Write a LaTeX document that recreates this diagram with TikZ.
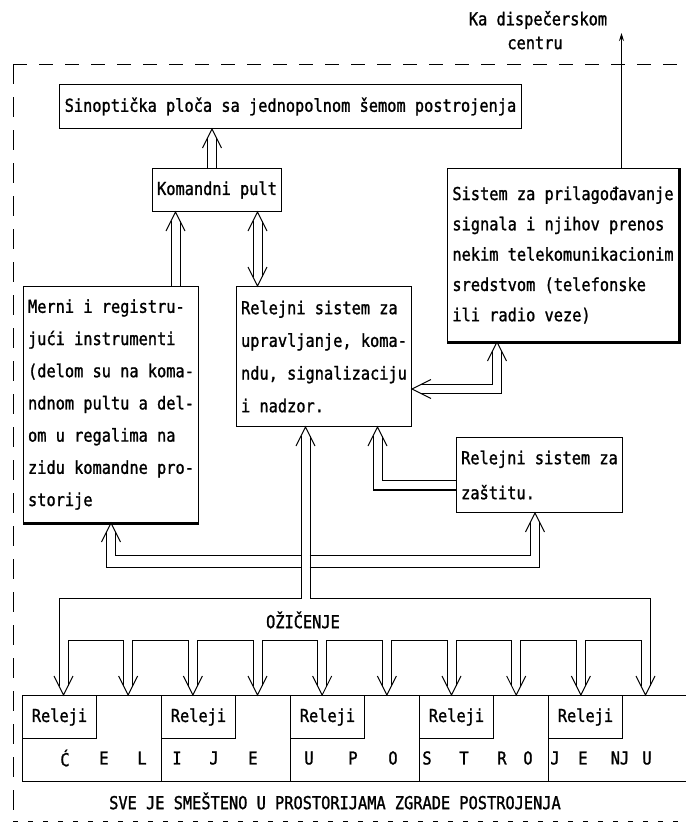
\documentclass[tikz,border=0pt]{standalone}
\usepackage{fontspec}
\newfontfamily\dfont[FakeStretch=0.86,FakeBold=1.3]{DejaVu Sans Mono}
\newcommand\dtext[1]{\dfont\fontsize{17.8pt}{#1pt}\selectfont}
\usetikzlibrary{calc,arrows.meta}
\tikzset{
  hup/.pic={\draw[line width=1pt] (-9.5,19) -- (0,0) -- (9.5,19);},
  hdown/.pic={\draw[line width=1pt] (-9.5,-19) -- (0,0) -- (9.5,-19);},
  hleft/.pic={\draw[line width=1pt] (19,-9.5) -- (0,0) -- (19,9.5);},
}
\begin{document}
\begin{tikzpicture}[x=1pt,y=-1pt,
  every node/.style={inner sep=0pt, font=\dtext{20}},
  box/.style={draw, line width=1pt, anchor=north west, inner sep=0pt, align=left},
  dline/.style={line width=1pt, double=white, double distance=8pt},
  ln/.style={line width=1pt},
  relbox/.style={draw, line width=1pt, anchor=north west, minimum width=74pt, minimum height=43pt},
]
\useasboundingbox (0,0) rectangle (686,823);

% dashed frame
\draw[line width=1pt, dash pattern=on 14pt off 12pt] (13,64) -- (686,64);
\draw[line width=1pt, dash pattern=on 20pt off 13pt] (13,64) -- (13,823);
\draw[line width=0.8pt, dash pattern=on 5pt off 10pt] (13,821.5) -- (686,821.5);

% boxes
\node[box, minimum width=462pt, minimum height=44pt, align=center] (sin) at (59,84)
  {Sinoptička ploča sa jednopolnom šemom postrojenja};
\node[box, minimum width=129pt, minimum height=43pt, align=center] (kp) at (152,168)
  {Komandni pult};
\node[box, minimum width=231pt, minimum height=173pt, font=\dtext{30.3}] (sis) at (447,168)
  {Sistem za prilagođavanje\\signala i njihov prenos\\nekim telekomunikacionim\\sredstvom (telefonske\\ili radio veze)};
\node[box, minimum width=175pt, minimum height=236pt, font=\dtext{32.2}] (mer) at (23,286)
  {Merni i registru-\\jući instrumenti\\(delom su na koma-\\ndnom pultu a del-\\om u regalima na\\zidu komandne pro-\\storije};
\node[box, minimum width=175pt, minimum height=140pt, font=\dtext{32.7}] (rel) at (236,286)
  {Relejni sistem za\\upravljanje, koma-\\ndu, signalizaciju\\i nadzor.};
\node[box, minimum width=166pt, minimum height=75pt, font=\dtext{35}] (zas) at (456,437)
  {Relejni sistem za\\zaštitu.};

% heavier edges
\draw[line width=2pt] ($(sis.north east)+(0.5,0)$) -- ($(sis.south east)+(0.5,0.5)$) -- ($(sis.south west)+(0,0.5)$);
\draw[line width=2pt] ($(mer.south west)+(0,0.5)$) -- ($(mer.south east)+(0,0.5)$);

% text outside
\node (ka) at (538,20) {Ka dispečerskom};
\node (ce) at (535,43) {centru};
\coordinate (disp) at (621.5,33);
\draw[line width=1pt, -{Stealth[length=8pt,width=5pt]}] (sis.north -| disp) -- (disp);

% kp -> sin
\coordinate (a1) at ($(kp.north)+(-5,0)$);
\draw[dline, shorten <=0.5pt, shorten >=9pt] (a1) -- (a1 |- sin.south);
\pic at (a1 |- sin.south) {hup};
% mer -> kp
\coordinate (a2) at ($(kp.south)+(-41.5,0)$);
\draw[dline, shorten <=0.5pt, shorten >=9pt] (a2 |- mer.north) -- (a2);
\pic at (a2) {hup};
% kp <-> rel
\coordinate (a3) at ($(kp.south)+(40.5,0)$);
\draw[dline, shorten <=9pt, shorten >=9pt] (a3 |- rel.north) -- (a3);
\pic at (a3) {hup};
\pic at (a3 |- rel.north) {hdown};
% rel <-> sis
\coordinate (b1) at (rel.east |- 0,389);
\coordinate (b2) at (497,389);
\draw[dline, shorten <=9pt, shorten >=9pt] (b1) -- (b2) -- (b2 |- sis.south);
\pic at (b1) {hleft};
\pic at (b2 |- sis.south) {hup};
% zas -> rel
\coordinate (c1) at (zas.west |- 0,485);
\coordinate (c2) at (377.5,485);
\draw[dline, shorten <=0.5pt, shorten >=9pt] (c1) -- (c2) -- (c2 |- rel.south);
\draw[line width=2pt] ($(c1)+(0,4.5)$) -- ($(c2)+(-4.5,4.5)$);
\pic at (c2 |- rel.south) {hup};

% wiring bus
\coordinate (t) at ($(rel.south)+(-18.5,0)$);
\coordinate (zt) at ($(zas.south)+(-4.5,0)$);
\pic at (t) {hup};
\pic at (mer.south) {hup};
\pic at (zt) {hup};
\draw[ln] ($(t)+(-4.5,9)$) |- (59,598) -- (59,686);
\draw[ln] ($(t)+(4.5,9)$) |- (650,598) -- (650,686);
\draw[ln] (300.5,555) -| ($(mer.south)+(4.5,9)$);
\draw[ln] (300.5,567) -| ($(mer.south)+(-4.5,9)$);
\draw[ln] (309.5,555) -| ($(zt)+(-4.5,9)$);
\draw[ln] (309.5,567) -| ($(zt)+(4.5,9)$);
\foreach \k in {0,...,8} {
  \pgfmathsetmacro\xa{63.5+64.67*\k+4.5}
  \pgfmathsetmacro\xb{63.5+64.67*(\k+1)-4.5}
  \draw[ln] (\xa,686) |- (\xb,640) -- (\xb,686);
}
\foreach \k in {0,...,9} {
  \pgfmathsetmacro\xc{63.5+64.67*\k}
  \pic at (\xc,695) {hdown};
}
\node (ozi) at (303,620) {OŽIČENJE};

% bottom row
\draw[ln] (686,695) -- (22,695) -- (22,781) -- (686,781);
\foreach \x in {161,290,419,548} \draw[ln] (\x,695) -- (\x,781);
\foreach \x/\n in {22/1,161/2,290/3,419/4,548/5}
  \node[relbox] (rl\n) at (\x,695) {Releji};
\foreach \x/\t [count=\i] in {65/Ć,104/E,142/L,177/I,214/J,253/E,309/U,353/P,393/O,427/S,464/T,502/R,528/O,555/J,583/E,620/NJ,647/U}
  \node (lt\i) at (\x,758) {\t};
\node (sve) at (335,801) {SVE JE SMEŠTENO U PROSTORIJAMA ZGRADE POSTROJENJA};
\end{tikzpicture}
\end{document}
